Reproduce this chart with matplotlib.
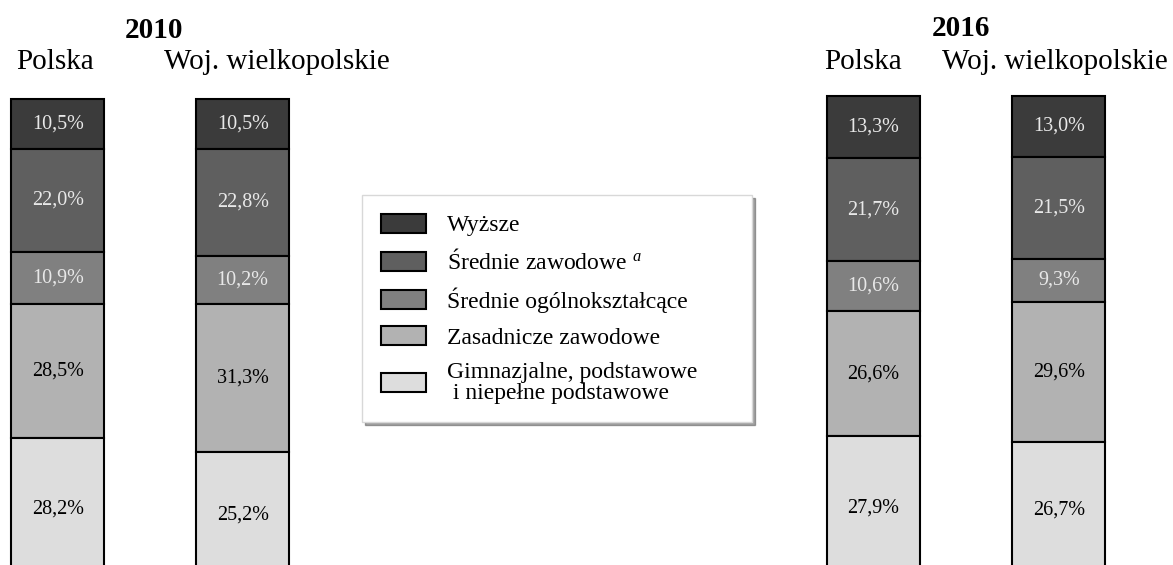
import matplotlib
matplotlib.use("Agg")
import matplotlib.pyplot as plt
import numpy as np

plt.rcParams['font.family'] = ['Liberation Serif', 'DejaVu Serif']
plt.rcParams['mathtext.fontset'] = 'custom'
plt.rcParams['mathtext.it'] = 'Liberation Serif:italic'
plt.rcParams['mathtext.rm'] = 'Liberation Serif'

# data: order of bars -> 2010 Polska, 2010 wielkopolskie, 2016 Polska, 2016 wielkopolskie
years = ['2010', '2016']
regions = ['Polska', 'Woj. wielkopolskie']
categories = ['Wyższe', 'Średnie zawodowe $^{\\mathit{a}}$', 'Średnie ogólnokształcące',
              'Zasadnicze zawodowe', 'Gimnazjalne, podstawowe\n i niepełne podstawowe']
wyzsze = [10.5, 10.5, 13.3, 13.0]
srednie_zaw = [22.0, 22.8, 21.7, 21.5]
srednie_ogol = [10.9, 10.2, 10.6, 9.3]
zasadnicze = [28.5, 31.3, 26.6, 29.6]
gimnazjalne = [28.2, 25.2, 27.9, 26.7]

series = [wyzsze, srednie_zaw, srednie_ogol, zasadnicze, gimnazjalne]
colors = ['#3b3b3b', '#5f5f5f', '#808080', '#b2b2b2', '#dddddd']
text_colors = ['#e8e8e8', '#e8e8e8', '#e8e8e8', 'black', 'black']

W, H = 1173, 565
fig = plt.figure(figsize=(W / 100, H / 100), dpi=100)

# one axes per year, pixel-ish x, percent y (top of bar at 0)
px_per_pct = 4.72
bar_top = [99, 95.7]
x_pos = [[57.7, 242.7], [873.3, 1058.8]]
bar_w = 93

axes = []
for k in range(2):
    ax = fig.add_axes([0, 0, 1, 1])
    ax.patch.set_alpha(0)
    ax.set_xlim(0, W)
    ax.set_ylim((H - bar_top[k]) / px_per_pct, -bar_top[k] / px_per_pct)
    ax.axis('off')
    bottom = np.zeros(2)
    for s, vals in enumerate(series):
        v = np.array(vals[2 * k:2 * k + 2])
        bars = ax.bar(x_pos[k], v, bar_w, bottom=bottom, color=colors[s],
                      edgecolor='black', linewidth=1.5, label=categories[s])
        anns = ax.bar_label(bars, labels=[f"{x:.1f}%".replace('.', ',') for x in v],
                            label_type='center', color=text_colors[s], fontsize=14.5)
        if s == len(series) - 1:
            # bottom segment runs off the picture, labels sit a bit lower
            for a in anns:
                a.xyann = (0, -5)
        bottom += v
    axes.append(ax)

# headers
fig.text(154 / W, 1 - 30 / H, years[0], ha='center', va='center', fontsize=21, fontweight='bold')
fig.text(961 / W, 1 - 28 / H, years[1], ha='center', va='center', fontsize=21, fontweight='bold')
for cx, nm in zip([55.5, 277, 863.5, 1055], regions * 2):
    fig.text(cx / W, 1 - 62 / H, nm, ha='center', va='center', fontsize=21)

handles, labels = axes[0].get_legend_handles_labels()
leg = axes[1].legend(handles, labels, loc='upper left', mode='expand',
                     bbox_to_anchor=(362 / W, 1 - 195 / H - 0.01, 390 / W, 0.01),
                     bbox_transform=fig.transFigure,
                     fontsize=17, frameon=True, fancybox=False, shadow=True,
                     handlelength=1.9, handleheight=0.85, handletextpad=0.9,
                     borderpad=0.8, labelspacing=0.55, borderaxespad=0)
leg.get_frame().set_edgecolor('#d8d8d8')
leg.get_frame().set_linewidth(1)
for t in leg.get_texts():
    t.set_linespacing(1.0)

fig.savefig('out.png', dpi=100)
